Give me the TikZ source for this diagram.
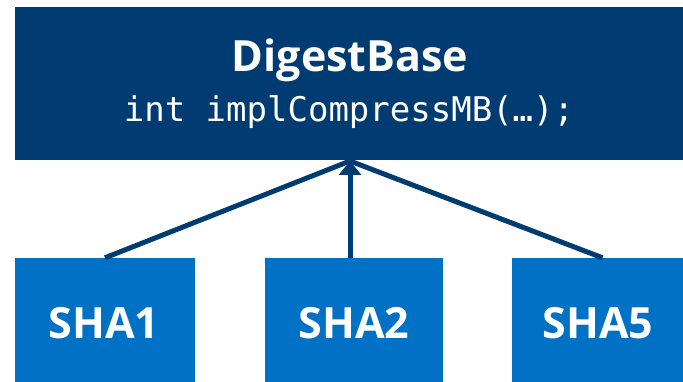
\documentclass[tikz,border=0pt]{standalone}
\usepackage{fontspec}
\setsansfont{Open Sans}
\setmonofont{DejaVu Sans Mono}
\usetikzlibrary{arrows.meta}
\definecolor{navy}{RGB}{0,60,113}
\definecolor{azure}{RGB}{0,113,197}
\tikzset{
  basebox/.style={fill=navy, draw=none, inner sep=0pt},
  subbox/.style={fill=azure, draw=none, inner sep=0pt, minimum height=124pt,
    text=white, font=\sffamily\bfseries\fontsize{43}{43}\selectfont},
  link/.style={draw=navy, line width=5pt},
  title/.style={text=white, inner sep=0pt, font=\sffamily\bfseries\fontsize{43}{43}\selectfont},
  code/.style={text=white, inner sep=0pt, font=\ttfamily\fontsize{34}{34}\selectfont}
}
\begin{document}
\begin{tikzpicture}[x=1pt, y=-1pt]
  \useasboundingbox (0,0) rectangle (683,382);
  % base class box
  \node[basebox, minimum width=668pt, minimum height=153pt] (base) at (349,83.5) {};
  \coordinate (tip) at (350,161);
  % derived classes
  \node[subbox, minimum width=180pt] (sha1) at (105,320) {};
  \node[subbox, minimum width=178pt] (sha2) at (354,320) {};
  \node[subbox, minimum width=171pt] (sha5) at (597.5,320) {};
  \node[subbox, fill=none] at (104,323) {SHA1};
  \node[subbox, fill=none] at (354,323) {SHA2};
  \node[subbox, fill=none] at (598,323) {SHA5};
  % inheritance links
  \draw[link] (sha1.north) -- (tip);
  \draw[link] ([xshift=5pt]sha5.north) -- (tip);
  \draw[link, -{Triangle[length=14pt, width=22pt]}] (sha2.north -| tip) -- (tip);
  % base class labels
  \node[title] (name) at (350,60) {DigestBase};
  \node[code] (method) at (349,112) {int implCompressMB(…);};
\end{tikzpicture}
\end{document}
